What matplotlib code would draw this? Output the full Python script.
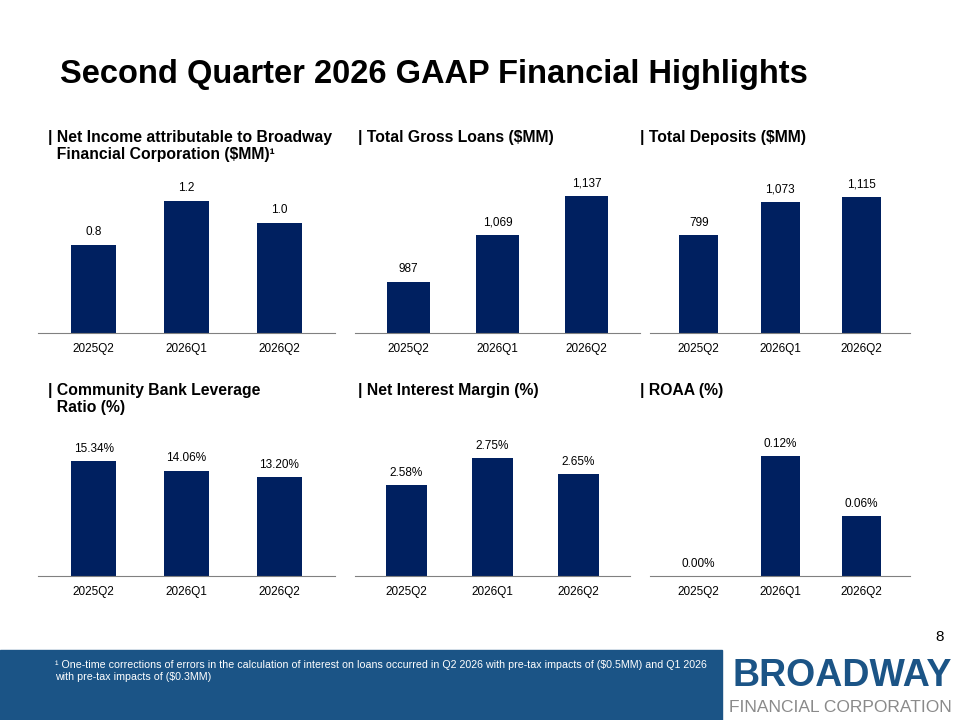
import matplotlib
matplotlib.use("Agg")
import matplotlib.pyplot as plt
from matplotlib.patches import Rectangle

quarters = ["2025Q2", "2026Q1", "2026Q2"]
net_income = [0.8, 1.2, 1.0]
gross_loans = [987, 1069, 1137]
deposits = [799, 1073, 1115]
cblr = [15.34, 14.06, 13.20]
nim = [2.58, 2.75, 2.65]
roaa = [0.00, 0.12, 0.06]

NAVY = "#002060"
W, H = 960, 720
fig = plt.figure(figsize=(9.6, 7.2), dpi=100)
plt.rcParams['font.family'] = ['Liberation Sans', 'DejaVu Sans']

def px(x0, y0, x1, y1):
    return [x0 / W, 1 - y1 / H, (x1 - x0) / W, (y1 - y0) / H]

fig.text(60 / W, 1 - 75 / H, "Second Quarter 2026 GAAP Financial Highlights",
         fontsize=23.5, fontweight="bold", va="center", ha="left")

panels = [
    (net_income, (38, 170, 335, 333), (0, 1.48), lambda v: f"{v:.1f}",
     "| Net Income attributable to Broadway\n  Financial Corporation ($MM)¹", (48, 130)),
    (gross_loans, (355, 170, 640, 333), (898, 898 + 163 / 0.573), lambda v: f"{v:,.0f}",
     "| Total Gross Loans ($MM)", (358, 130)),
    (deposits, (650, 170, 910, 333), (0, 163 * 8.17), lambda v: f"{v:,.0f}",
     "| Total Deposits ($MM)", (640, 130)),
    (cblr, (38, 420, 335, 576), (0, 156 / 7.5), lambda v: f"{v:.2f}%",
     "| Community Bank Leverage\n  Ratio (%)", (48, 383)),
    (nim, (355, 420, 630, 576), (2.01, 2.01 + 156 / 159), lambda v: f"{v:.2f}%",
     "| Net Interest Margin (%)", (358, 383)),
    (roaa, (650, 420, 910, 576), (0, 0.156), lambda v: f"{v:.2f}%",
     "| ROAA (%)", (640, 383)),
]

for vals, box, ylim, fmt, title, tpos in panels:
    ax = fig.add_axes(px(*box))
    x = range(len(quarters))
    ax.bar(x, vals, width=0.48, color=NAVY)
    ax.set_ylim(*ylim)
    ax.set_xlim(-0.6, 2.6)
    for xi, v in zip(x, vals):
        ax.text(xi, max(v, ylim[0]) + (ylim[1] - ylim[0]) * 0.04, fmt(v),
                ha="center", va="bottom", fontsize=8.5)
    ax.set_xticks(list(x))
    ax.set_xticklabels(quarters, fontsize=8.5)
    ax.tick_params(axis="x", length=0, pad=7)
    ax.set_yticks([])
    for s in ["top", "right", "left"]:
        ax.spines[s].set_visible(False)
    ax.spines["bottom"].set_color("#808080")
    fig.text(tpos[0] / W, 1 - tpos[1] / H, title, fontsize=11.3, fontweight="bold",
             va="top", ha="left", linespacing=1.2)

fig.text(940 / W, 1 - 637 / H, "8", fontsize=11, ha="center", va="center")
fig.patches.append(Rectangle((0, 0), 722 / W, 70 / H, transform=fig.transFigure,
                             color="#1B5486", zorder=0))
fig.text(55 / W, 1 - 671 / H,
         "¹ One-time corrections of errors in the calculation of interest on loans occurred in Q2 2026 with pre-tax impacts of (\\$0.5MM) and Q1 2026\nwith pre-tax impacts of (\\$0.3MM)",
         fontsize=7.7, color="white", va="center", ha="left", linespacing=1.35)
fig.text(842 / W, 1 - 676 / H, "BROADWAY", fontsize=27, fontweight="bold",
         color="#1B5486", ha="center", va="center")
fig.text(840 / W, 1 - 708 / H, "FINANCIAL CORPORATION", fontsize=12.5,
         color="#8a8a8a", ha="center", va="center")

fig.savefig("out.png", dpi=100)
